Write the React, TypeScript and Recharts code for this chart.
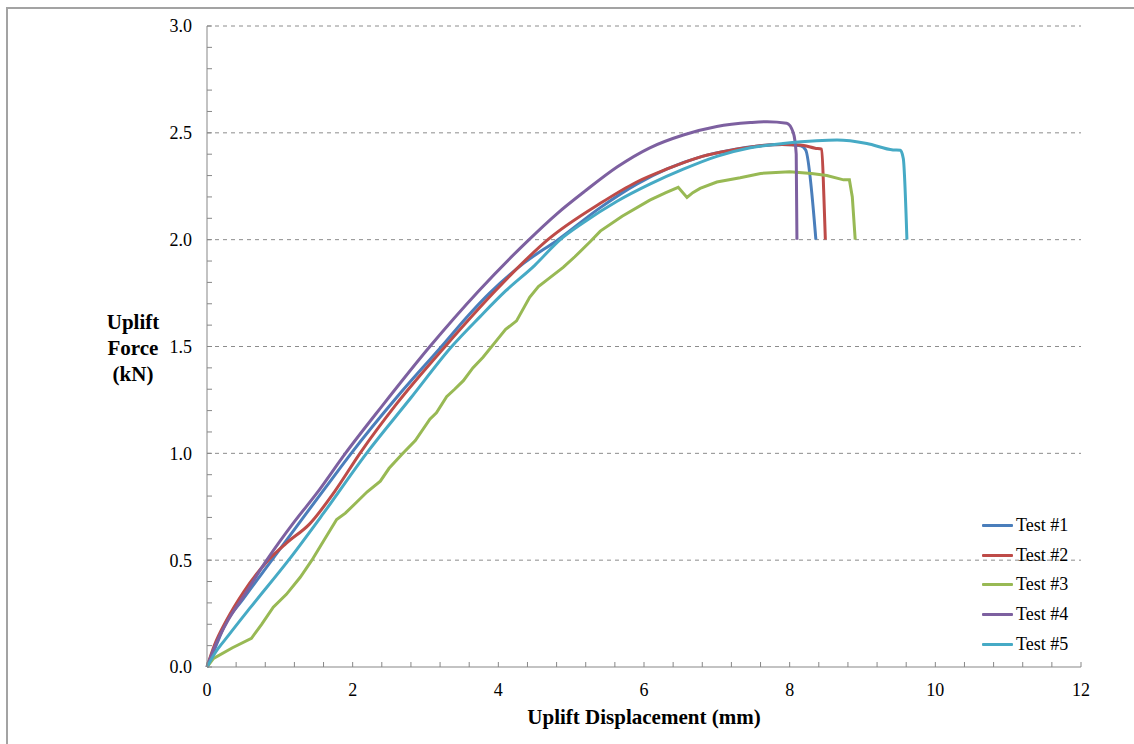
import { LineChart, Line, XAxis, YAxis, CartesianGrid, Legend } from "recharts";

// uplift displacement (mm) / uplift force (kN) pairs
const test1X = [0, 0.1, 0.25, 0.5, 0.89, 1.3, 1.65, 1.98, 2.6, 3.22, 3.6, 3.88, 4.35, 4.82, 5.4, 5.9, 6.31, 6.8, 7.2, 7.6, 7.9, 8.15, 8.22, 8.36];
const test1F = [0, 0.08, 0.2, 0.32, 0.5, 0.69, 0.85, 1.0, 1.26, 1.5, 1.65, 1.75, 1.89, 2.0, 2.15, 2.26, 2.33, 2.39, 2.42, 2.44, 2.445, 2.44, 2.42, 2.0];

const test2X = [0, 0.1, 0.27, 0.5, 0.84, 1.09, 1.41, 1.75, 2.1, 2.6, 3.27, 3.93, 4.3, 4.68, 5.4, 5.9, 6.31, 6.8, 7.22, 7.6, 7.9, 8.14, 8.35, 8.44, 8.47, 8.49];
const test2F = [0, 0.1, 0.22, 0.35, 0.5, 0.58, 0.67, 0.82, 1.0, 1.23, 1.5, 1.75, 1.88, 2.0, 2.17, 2.27, 2.33, 2.39, 2.42, 2.44, 2.445, 2.443, 2.428, 2.423, 2.2, 2.0];

const test3X = [0, 0.09, 0.35, 0.61, 0.75, 0.91, 1.09, 1.28, 1.44, 1.6, 1.78, 1.9, 2.05, 2.2, 2.38, 2.5, 2.69, 2.86, 3.06, 3.15, 3.29, 3.4, 3.52, 3.65, 3.79, 3.98, 4.1, 4.25, 4.43, 4.55, 4.7, 4.89, 5.05, 5.26, 5.4, 5.7, 6.08, 6.3, 6.47, 6.59, 6.67, 6.77, 7.0, 7.32, 7.6, 8.0, 8.3, 8.51, 8.74, 8.82, 8.86, 8.9];
const test3F = [0, 0.04, 0.09, 0.134, 0.2, 0.28, 0.34, 0.42, 0.5, 0.59, 0.69, 0.72, 0.77, 0.82, 0.87, 0.93, 1.0, 1.06, 1.16, 1.19, 1.265, 1.3, 1.34, 1.4, 1.45, 1.53, 1.58, 1.62, 1.73, 1.78, 1.82, 1.87, 1.92, 1.99, 2.04, 2.11, 2.185, 2.22, 2.245, 2.198, 2.22, 2.24, 2.27, 2.29, 2.31, 2.318, 2.31, 2.3, 2.28, 2.28, 2.2, 2.0];

const test4X = [0, 0.1, 0.29, 0.5, 0.82, 1.2, 1.5, 1.9, 2.4, 3.06, 3.73, 4.39, 4.8, 5.2, 5.63, 6.08, 6.54, 7.0, 7.46, 7.69, 7.96, 8.05, 8.09, 8.1];
const test4F = [0, 0.09, 0.22, 0.33, 0.5, 0.68, 0.81, 1.0, 1.22, 1.5, 1.76, 1.99, 2.12, 2.23, 2.34, 2.43, 2.49, 2.53, 2.548, 2.552, 2.545, 2.5, 2.4, 2.0];

const test5X = [0, 0.1, 0.3, 0.6, 1.12, 1.6, 2.19, 2.8, 3.36, 3.75, 4.1, 4.5, 4.85, 5.17, 5.63, 6.08, 6.54, 7.0, 7.46, 7.91, 8.37, 8.65, 9.06, 9.42, 9.52, 9.56, 9.61];
const test5F = [0, 0.06, 0.15, 0.28, 0.5, 0.72, 1.0, 1.26, 1.5, 1.64, 1.76, 1.88, 2.0, 2.08, 2.18, 2.26, 2.33, 2.39, 2.43, 2.45, 2.463, 2.466, 2.45, 2.42, 2.418, 2.38, 2.0];

const seriesNames = ["Test #1", "Test #2", "Test #3", "Test #4", "Test #5"];
const seriesColors = ["#4a7ebb", "#be4b48", "#98b954", "#7d60a0", "#46aac5"];

const xTicks = [0, 0.4, 0.8, 1.2, 1.6, 2, 2.4, 2.8, 3.2, 3.6, 4, 4.4, 4.8, 5.2, 5.6, 6, 6.4, 6.8, 7.2, 7.6, 8, 8.4, 8.8, 9.2, 9.6, 10, 10.4, 10.8, 11.2, 11.6, 12];
const xLabels = [0, 2, 4, 6, 8, 10, 12];
const yTicks = [0, 0.1, 0.2, 0.3, 0.4, 0.5, 0.6, 0.7, 0.8, 0.9, 1, 1.1, 1.2, 1.3, 1.4, 1.5, 1.6, 1.7, 1.8, 1.9, 2, 2.1, 2.2, 2.3, 2.4, 2.5, 2.6, 2.7, 2.8, 2.9, 3];
const yLabels = [0, 0.5, 1, 1.5, 2, 2.5, 3];

const toRows = (xs: number[], fs: number[]) => xs.map((x, i) => ({ x, f: fs[i] }));
const series = [
  toRows(test1X, test1F),
  toRows(test2X, test2F),
  toRows(test3X, test3F),
  toRows(test4X, test4F),
  toRows(test5X, test5F),
];

const isLabel = (list: number[], v: number) => list.some((l) => Math.abs(l - v) < 1e-6);

const axisGrey = "#878787";
const font = "'Liberation Serif', 'Times New Roman', serif";

const YTitle = (props: any) => {
  const vb = props.viewBox || { x: 0, y: 26, width: 207, height: 641 };
  const cx = vb.x + vb.width - 74;
  const cy = vb.y + vb.height / 2;
  return (
    <text x={cx} y={cy - 18} textAnchor="middle" fontWeight="bold" fontSize={21} fill="#000" fontFamily={font}>
      <tspan x={cx}>Uplift</tspan>
      <tspan x={cx} dy={26}>Force</tspan>
      <tspan x={cx} dy={26}>(kN)</tspan>
    </text>
  );
};

const renderLegend = (props: any) => (
  <div style={{ fontFamily: font, fontSize: 18, color: "#000" }}>
    {(props.payload || []).map((e: any) => (
      <div key={e.value} style={{ display: "flex", alignItems: "center", height: 29.6 }}>
        <span style={{ display: "inline-block", width: 31, height: 3, background: e.color, borderRadius: 1 }} />
        <span style={{ marginLeft: 3 }}>{e.value}</span>
      </div>
    ))}
  </div>
);

export default function App() {
  return (
    <div style={{ position: "absolute", left: 0, top: 0, width: 1134, height: 744, overflow: "hidden", background: "#fff", fontFamily: font }}>
      <div style={{ position: "absolute", left: 6, top: 7, width: 1200, height: 800, borderLeft: "2px solid #a3a3a3", borderTop: "2px solid #a3a3a3" }} />
      <LineChart width={1134} height={744} margin={{ top: 26, right: 53, bottom: 17, left: 0 }} style={{ position: "absolute", left: 0, top: 0 }}>
        <CartesianGrid vertical={false} horizontalValues={[0.5, 1, 1.5, 2, 2.5, 3]} stroke="#8c8c8c" strokeDasharray="4 4" />
        <XAxis
          dataKey="x"
          type="number"
          domain={[0, 12]}
          ticks={xTicks}
          interval={0}
          height={60}
          tickSize={-5}
          tickMargin={21}
          stroke={axisGrey}
          tickLine={{ stroke: axisGrey }}
          tick={{ fill: "#000", fontSize: 18 }}
          tickFormatter={(v: number) => (isLabel(xLabels, v) ? String(Math.round(v)) : "")}
          label={{ value: "Uplift Displacement (mm)", position: "insideBottom", offset: 3, fontWeight: "bold", fontSize: 21, fill: "#000" }}
        />
        <YAxis
          type="number"
          domain={[0, 3]}
          ticks={yTicks}
          interval={0}
          width={207}
          tickSize={-5}
          tickMargin={20}
          stroke={axisGrey}
          tickLine={{ stroke: axisGrey }}
          tick={{ fill: "#000", fontSize: 18 }}
          tickFormatter={(v: number) => (isLabel(yLabels, v) ? v.toFixed(1) : "")}
          label={<YTitle />}
        />
        <Legend
          layout="vertical"
          align="center"
          verticalAlign="middle"
          content={renderLegend}
          wrapperStyle={{ left: 982, top: 511, width: 130, height: 150 }}
        />
        {series.map((rows, i) => (
          <Line
            key={seriesNames[i]}
            data={rows}
            dataKey="f"
            name={seriesNames[i]}
            type={i === 2 ? "linear" : "monotone"}
            stroke={seriesColors[i]}
            strokeWidth={3}
            dot={false}
            activeDot={false}
            legendType="line"
            isAnimationActive={false}
          />
        ))}
      </LineChart>
    </div>
  );
}
